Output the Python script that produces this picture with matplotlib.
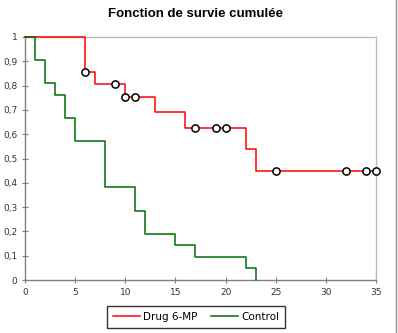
import matplotlib
matplotlib.use("Agg")
import matplotlib.pyplot as plt
from matplotlib.lines import Line2D

# Kaplan-Meier steps (time, survival)
drug_t = [0, 6, 7, 10, 13, 16, 22, 23, 35]
drug_s = [1, 0.857, 0.807, 0.753, 0.690, 0.627, 0.538, 0.448, 0.448]
drug_cens_t = [6, 9, 10, 11, 17, 19, 20, 25, 32, 34, 35]
drug_cens_s = [0.857, 0.807, 0.753, 0.753, 0.627, 0.627, 0.627, 0.448, 0.448, 0.448, 0.448]

ctrl_t = [0, 1, 2, 3, 4, 5, 8, 11, 12, 15, 17, 22, 23]
ctrl_s = [1, 0.905, 0.810, 0.762, 0.667, 0.571, 0.381, 0.286, 0.190, 0.143, 0.095, 0.048, 0.0]

xticks = [0, 5, 10, 15, 20, 25, 30, 35]
yticks = [0, 0.1, 0.2, 0.3, 0.4, 0.5, 0.6, 0.7, 0.8, 0.9, 1]
ylabels = ["0", "0,1", "0,2", "0,3", "0,4", "0,5", "0,6", "0,7", "0,8", "0,9", "1"]

W, H = 398, 333
fig = plt.figure(figsize=(W / 100, H / 100), dpi=100)
ax = fig.add_axes([25 / W, 53 / H, 351 / W, 243 / H])

ax.step(drug_t, drug_s, where="post", color="#ff0000", lw=1.1, zorder=3, clip_on=False)
ax.step(ctrl_t, ctrl_s, where="post", color="#007000", lw=1.1, zorder=3, clip_on=False)
ax.plot(drug_cens_t, drug_cens_s, ls="none", marker="o", ms=5.2, mfc="white",
        mec="black", mew=1.1, zorder=4, clip_on=False)

ax.set_xlim(0, 35)
ax.set_ylim(0, 1)
ax.set_xticks(xticks)
ax.set_xticklabels([str(v) for v in xticks])
ax.set_yticks(yticks)
ax.set_yticklabels(ylabels)
ax.tick_params(axis="both", direction="inout", length=5, width=0.8, color="#808080",
               labelsize=6.5, labelcolor="#333333", pad=3)

for s in ["left", "bottom"]:
    ax.spines[s].set_color("#808080")
    ax.spines[s].set_linewidth(1.0)
for s in ["top", "right"]:
    ax.spines[s].set_color("#bbbbbb")
    ax.spines[s].set_linewidth(1.0)

fig.text(196 / W, 1 - 14 / H, "Fonction de survie cumulée", ha="center", va="center",
         fontsize=9.5, fontweight="bold", family="Liberation Sans")

handles = [Line2D([], [], color="#ff0000", lw=1.1), Line2D([], [], color="#007000", lw=1.1)]
leg = fig.legend(handles, ["Drug 6-MP", "Control"], loc="center", bbox_to_anchor=(196 / W, 1 - 317 / H),
                 ncol=2, frameon=True, fancybox=False, fontsize=7.5, handlelength=2.6,
                 handletextpad=0.3, columnspacing=1.3, borderpad=0.6, borderaxespad=0)
leg.get_frame().set_edgecolor("black")
leg.get_frame().set_linewidth(1.0)

# spreadsheet edge at the right
fig.add_artist(Line2D([396 / W, 396 / W], [0, 1], color="#909090", lw=1.0))

fig.savefig("out.png", dpi=100)
